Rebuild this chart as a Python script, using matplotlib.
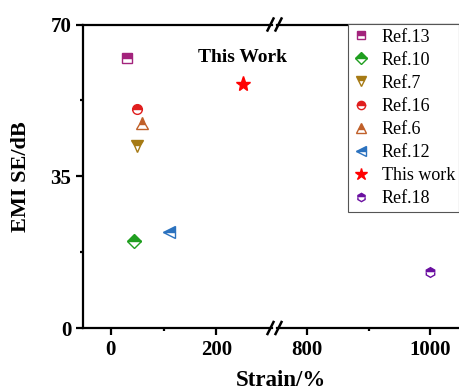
import matplotlib
matplotlib.use("Agg")
import matplotlib.pyplot as plt
from matplotlib.ticker import FixedLocator
from matplotlib.lines import Line2D

plt.rcParams['font.family'] = ['Liberation Serif', 'DejaVu Serif']

labels = ["Ref.13", "Ref.10", "Ref.7", "Ref.16", "Ref.6", "Ref.12", "This work", "Ref.18"]
strain = [30, 45, 50, 50, 60, 110, 250, 1000]
emi_se = [62.2, 20.1, 42.0, 50.5, 47.3, 22.1, 56.3, 13.0]
markers = ["s", "D", "v", "o", "^", "<", "*", "h"]
colors = ["#a3237c", "#1f9e1f", "#a67a14", "#e01e1e", "#c0602a", "#2b72bf", "#ff0000", "#6a0fa0"]
fills = ["top", "top", "top", "top", "top", "top", "full", "top"]
sizes = [7, 7, 8, 7, 8, 8, 11, 7]

W, H = 460, 390
fig = plt.figure(figsize=(W / 100, H / 100), dpi=100)

def ax_rect(x0, x1, y0=24.5, y1=328):
    return [x0 / W, 1 - y1 / H, (x1 - x0) / W, (y1 - y0) / H]

axL = fig.add_axes(ax_rect(83, 272))
axR = fig.add_axes(ax_rect(277, 462), sharey=axL)
axR.patch.set_visible(False)

axL.set_xlim(-52.5, 305.5)
axR.set_xlim(751.8, 1051)
axL.set_ylim(0, 70)

handles = []
for lab, x, y, m, c, f, s in zip(labels, strain, emi_se, markers, colors, fills, sizes):
    ax = axL if x < 500 else axR
    kw = dict(marker=m, color=c, markerfacecolor=c, markeredgecolor=c,
              fillstyle=f, markerfacecoloralt="white", markersize=s,
              markeredgewidth=1.0, linestyle="none")
    ax.plot([x], [y], **kw)
    handles.append(Line2D([], [], label=lab, **kw))

axL.text(250, 60.4, "This Work", ha="center", va="bottom",
         fontsize=14, fontweight="bold", clip_on=False)

lw = 1.6
for ax in (axL, axR):
    for sp in ax.spines.values():
        sp.set_linewidth(lw)
    ax.tick_params(which="major", direction="out", length=5, width=lw,
                   labelsize=15)
    ax.tick_params(which="minor", direction="out", length=2.5, width=lw)

axL.spines["right"].set_visible(False)
axR.spines["left"].set_visible(False)
axR.spines["right"].set_visible(False)
axR.tick_params(axis="y", which="both", left=False, labelleft=False)

axL.xaxis.set_major_locator(FixedLocator([0, 200]))
axL.xaxis.set_minor_locator(FixedLocator([100]))
axR.xaxis.set_major_locator(FixedLocator([800, 1000]))
axR.xaxis.set_minor_locator(FixedLocator([900]))
axL.yaxis.set_major_locator(FixedLocator([0, 35, 70]))
axL.yaxis.set_minor_locator(FixedLocator([17.5, 52.5]))
for ax in (axL, axR):
    for t in ax.get_xticklabels() + ax.get_yticklabels():
        t.set_fontweight("bold")
        t.set_fontsize(15)

axL.set_ylabel("EMI SE/dB", fontsize=16, fontweight="bold", labelpad=14)
fig.text(281 / W, 1 - 380 / H, "Strain/%", ha="center",
         va="center", fontsize=16.5, fontweight="bold")

# break marks
for yb in (24.5, 328):
    for xb in (270.5, 278.5):
        fig.add_artist(Line2D([(xb - 3) / W, (xb + 3) / W],
                              [1 - (yb + 6) / H, 1 - (yb - 6) / H],
                              color="black", linewidth=1.8,
                              transform=fig.transFigure))

leg = fig.legend(handles=handles, loc="upper right",
                 bbox_to_anchor=(459.5 / W, 1 - 24 / H),
                 fontsize=13, frameon=True, fancybox=False, framealpha=1,
                 edgecolor="#555555", handlelength=0.9, handletextpad=0.7,
                 labelspacing=0.34, borderpad=0.25, borderaxespad=0,
                 markerscale=0.85)
leg.get_frame().set_linewidth(0.8)

fig.savefig("out.png", dpi=100)
